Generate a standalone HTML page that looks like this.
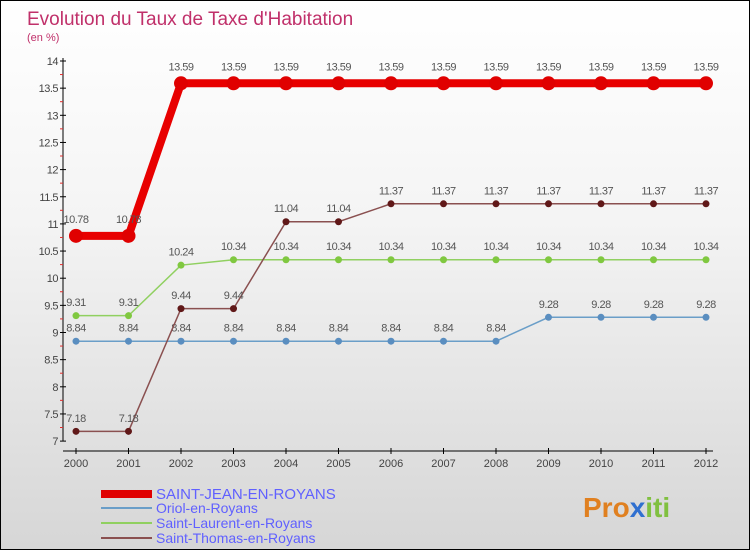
<!DOCTYPE html>
<html><head><meta charset="utf-8"><style>
body{margin:0}
#c{position:relative;width:748px;height:548px;border:1px solid #000;background:linear-gradient(#fff,#f4f4f4 40%,#d6d6d6);font-family:"Liberation Sans",sans-serif;overflow:hidden}
</style></head><body>
<div id="c">
<svg id="s" width="748" height="548" style="position:absolute;left:0;top:0">
<text x="26" y="24" font-size="19" fill="#c0306a">Evolution du Taux de Taxe d'Habitation</text>
<text x="26" y="40" font-size="11" fill="#c0306a">(en %)</text>
<g id="axes"></g><g id="series"></g>
<g>
<rect x="100" y="489" width="51" height="8" fill="#e00000"/>
<text x="155" y="498" font-size="15" fill="#6060ff">SAINT-JEAN-EN-ROYANS</text>
<line x1="100" y1="507" x2="151" y2="507" stroke="#6a9ec8" stroke-width="2"/>
<text x="155" y="512" font-size="14" fill="#6060ff">Oriol-en-Royans</text>
<line x1="100" y1="522" x2="151" y2="522" stroke="#90d060" stroke-width="2"/>
<text x="155" y="527" font-size="14" fill="#6060ff">Saint-Laurent-en-Royans</text>
<line x1="100" y1="537" x2="151" y2="537" stroke="#8a5050" stroke-width="2"/>
<text x="155" y="542" font-size="14" fill="#6060ff">Saint-Thomas-en-Royans</text>
</g>
<text x="582" y="516" font-size="28" font-weight="bold" fill="#e08020">Pro<tspan fill="#3070d0">x</tspan><tspan fill="#80c040">iti</tspan></text>
</svg></div>
<script>
const years=[2000,2001,2002,2003,2004,2005,2006,2007,2008,2009,2010,2011,2012];
const sjean=[10.78,10.78,13.59,13.59,13.59,13.59,13.59,13.59,13.59,13.59,13.59,13.59,13.59];
const oriol=[8.84,8.84,8.84,8.84,8.84,8.84,8.84,8.84,8.84,9.28,9.28,9.28,9.28];
const slaurent=[9.31,9.31,10.24,10.34,10.34,10.34,10.34,10.34,10.34,10.34,10.34,10.34,10.34];
const sthomas=[7.18,7.18,9.44,9.44,11.04,11.04,11.37,11.37,11.37,11.37,11.37,11.37,11.37];
const yTicks=[7,7.5,8,8.5,9,9.5,10,10.5,11,11.5,12,12.5,13,13.5,14];
const NS="http://www.w3.org/2000/svg";
const X=i=>75+i*52.5, Y=v=>60+(14-v)*54.3;
function mk(p,t,a){const e=document.createElementNS(NS,t);for(const k in a)e.setAttribute(k,a[k]);p.appendChild(e);return e;}
const ax=document.getElementById('axes');
let l=mk(ax,'line',{x1:62,y1:57,x2:62,y2:440,stroke:'#000'});


l=mk(ax,'line',{x1:62,y1:450,x2:712,y2:450,stroke:'#000'});


yTicks.forEach(v=>{const y=Y(v);mk(ax,'line',{x1:59,y1:y,x2:65,y2:y,stroke:'#000'});
 if(v<14)mk(ax,'line',{x1:59,y1:y-13.6,x2:62,y2:y-13.6,stroke:'#e03030'});
 const t=mk(ax,'text',{x:57,y:y+4,'font-size':11,fill:'#444','text-anchor':'end','letter-spacing':'-0.5'});t.textContent=v;
 
 });
years.forEach((yr,i)=>{mk(ax,'line',{x1:X(i),y1:447,x2:X(i),y2:453,stroke:'#000'});
 const t=mk(ax,'text',{x:X(i),y:466,'font-size':11,fill:'#444','text-anchor':'middle'});t.textContent=yr;
 
 });
const sg=document.getElementById('series');
function series(name,vals,col,w,r,dot,lab){
 const g=mk(sg,'g',{});
 
 
 mk(g,'polyline',{points:vals.map((v,i)=>X(i)+','+Y(v)).join(' '),fill:'none',stroke:col,'stroke-width':w});
 vals.forEach((v,i)=>{const c=mk(g,'circle',{cx:X(i),cy:Y(v),r:r,fill:dot});
  
  
  const t=mk(g,'text',{x:X(i),y:Y(v)-(r+6),'font-size':11,fill:lab,'text-anchor':'middle','letter-spacing':'-0.5'});t.textContent=v;});
}
series('series-oriol',oriol,'#6a9ec8',1.5,3.5,'#5a8ec0','#555');
series('series-saint-laurent',slaurent,'#90d060',1.5,3.5,'#80c840','#555');
series('series-saint-thomas',sthomas,'#8a5050',1.5,3.5,'#601818','#555');
series('series-saint-jean',sjean,'#e80000',8,7,'#e00000','#555');
</script></body></html>
